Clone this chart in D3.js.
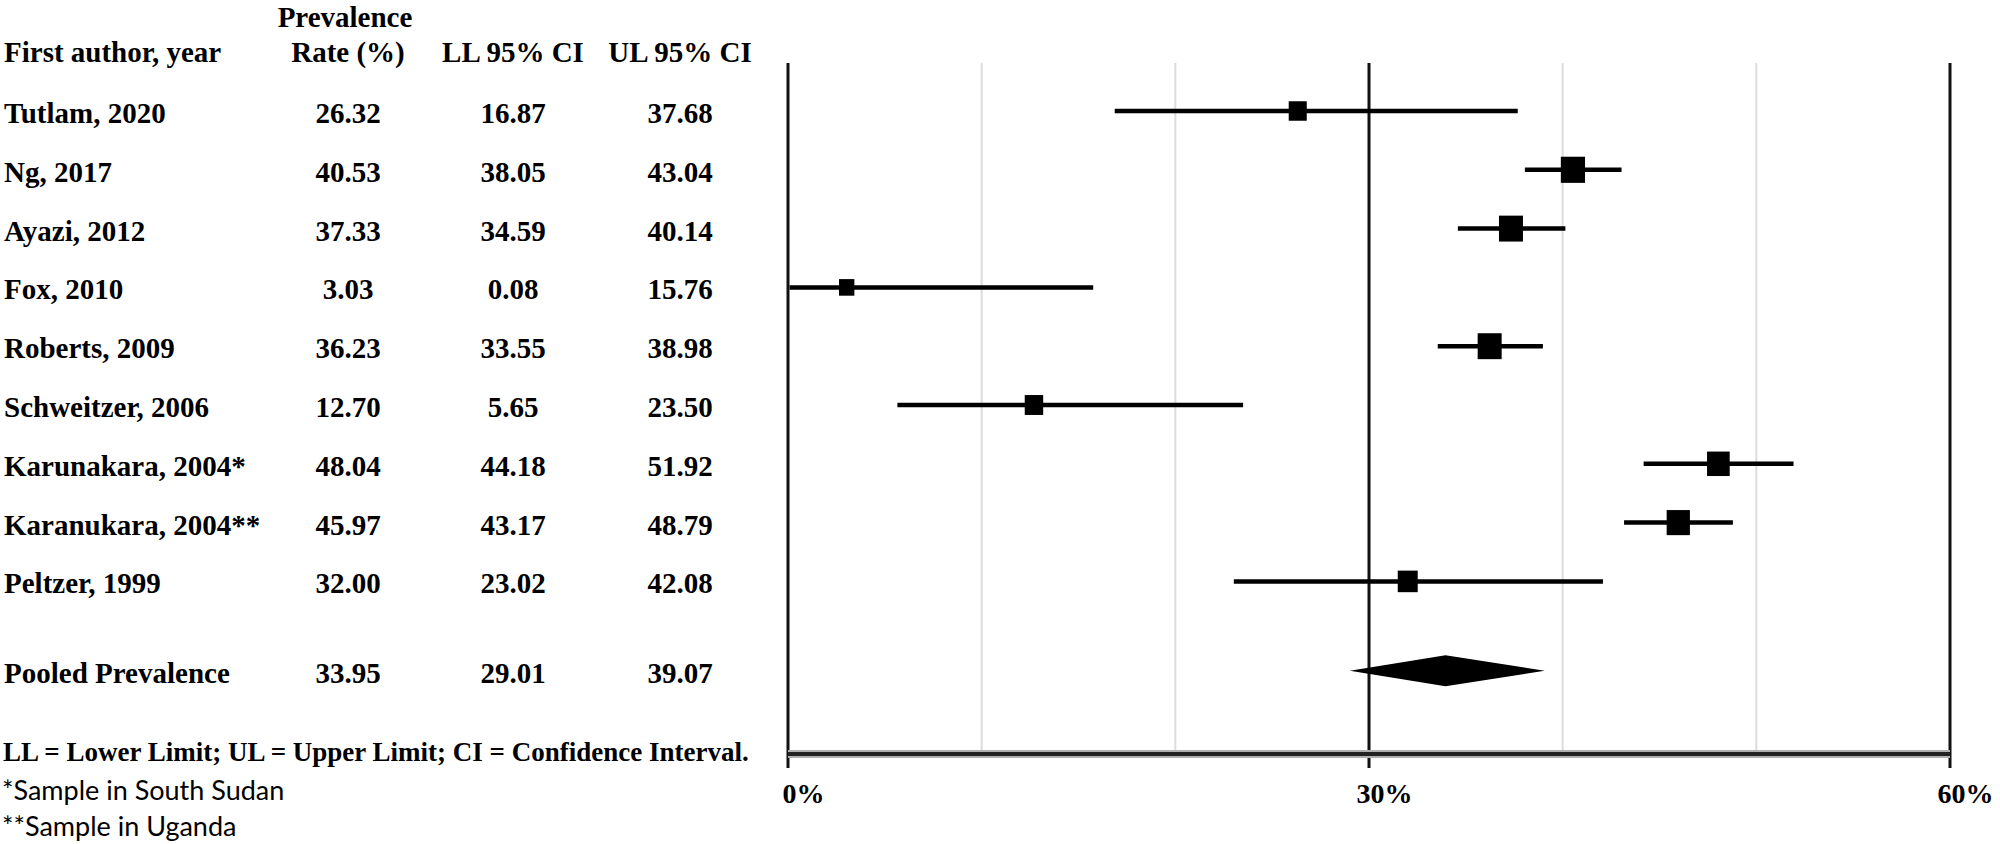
<!DOCTYPE html>
<html>
<head>
<meta charset="utf-8">
<script src="https://cdn.jsdelivr.net/npm/d3@7"></script>
<style>
  html, body { margin: 0; padding: 0; background: #fff; }
  svg { display: block; }
  .serif { font-family: "Liberation Serif", "Times New Roman", serif; font-weight: bold; fill: #000; }
  .sans { font-family: Lato, "Open Sans", sans-serif; fill: #000; }
</style>
</head>
<body>
<svg id="chart" width="2000" height="844"></svg>
<script>
// ---- data ----
const authors = ["Tutlam, 2020", "Ng, 2017", "Ayazi, 2012", "Fox, 2010", "Roberts, 2009",
  "Schweitzer, 2006", "Karunakara, 2004*", "Karanukara, 2004**", "Peltzer, 1999"];
const rate = [26.32, 40.53, 37.33, 3.03, 36.23, 12.70, 48.04, 45.97, 32.00];
const lowerCI = [16.87, 38.05, 34.59, 0.08, 33.55, 5.65, 44.18, 43.17, 23.02];
const upperCI = [37.68, 43.04, 40.14, 15.76, 38.98, 23.50, 51.92, 48.79, 42.08];
// relative study weight
const weight = [9.4, 12.6, 12.5, 8.0, 12.5, 9.6, 11.8, 12.1, 10.4];
const pooledLabel = ["Pooled Prevalence"];
const pooledValues = [33.95, 29.01, 39.07];   // estimate, LL, UL
const tickValues = [0, 30, 60];
const gridValues = [10, 20, 40, 50];
const headers = ["First author, year", "Prevalence", "Rate (%)", "LL 95% CI", "UL 95% CI"];
const footnotes = ["LL = Lower Limit; UL = Upper Limit; CI = Confidence Interval.",
  "*Sample in South Sudan", "**Sample in Uganda"];

// ---- layout ----
const svg = d3.select("#chart");
const x = d3.scaleLinear().domain([0, 60]).range([788, 1950]);
const y = d3.scaleLinear().domain([0, 8]).range([111, 581.4]);
const pooledIndex = 9.52;
const size = d3.scaleLinear().domain([0, 10]).range([0, 19.2]);
const plotTop = 63, axisY = 754, tickBottom = 768;
const colAuthor = 4, colRate = 348, colLL = 513, colUL = 680;
const textDy = 12;

// gridlines
svg.append("g").selectAll("line").data(gridValues).join("line")
  .attr("x1", d => x(d)).attr("x2", d => x(d))
  .attr("y1", plotTop).attr("y2", axisY)
  .attr("stroke", "#dcdcdc").attr("stroke-width", 2);

// main vertical lines (0, 30, 60)
svg.append("g").selectAll("line").data(tickValues).join("line")
  .attr("x1", d => x(d)).attr("x2", d => x(d))
  .attr("y1", plotTop).attr("y2", tickBottom)
  .attr("stroke", "#111").attr("stroke-width", 3);

// bottom axis line with grey halo
svg.append("line").attr("x1", x(0)).attr("x2", x(60)).attr("y1", axisY).attr("y2", axisY)
  .attr("stroke", "#b0b0b0").attr("stroke-width", 8);
svg.append("line").attr("x1", x(0)).attr("x2", x(60)).attr("y1", axisY).attr("y2", axisY)
  .attr("stroke", "#222").attr("stroke-width", 4);

// tick labels via d3 axis
const axis = d3.axisBottom(x).tickValues(tickValues).tickFormat(d => d + "%").tickSize(0).tickPadding(0);
const ag = svg.append("g").attr("transform", `translate(0,${axisY})`).call(axis);
ag.select(".domain").remove();
ag.selectAll("text")
  .attr("class", "serif")
  .attr("font-size", 28)
  .attr("text-anchor", "middle")
  .attr("dx", 15)
  .attr("dy", 0)
  .attr("y", 49);

// CI lines
const idx = d3.range(authors.length);
svg.append("g").selectAll("line").data(idx).join("line")
  .attr("x1", i => x(lowerCI[i])).attr("x2", i => x(upperCI[i]))
  .attr("y1", i => y(i)).attr("y2", i => y(i))
  .attr("stroke", "#000").attr("stroke-width", 4.5);

// markers
svg.append("g").selectAll("rect").data(idx).join("rect")
  .attr("x", i => x(rate[i]) - size(weight[i]) / 2)
  .attr("y", i => y(i) - size(weight[i]) * 1.08 / 2)
  .attr("width", i => size(weight[i]))
  .attr("height", i => size(weight[i]) * 1.08)
  .attr("fill", "#000");

// pooled diamond
const py = y(pooledIndex), ph = 15.5;
svg.append("path")
  .attr("d", `M${x(pooledValues[1])},${py} L${x(pooledValues[0])},${py - ph} L${x(pooledValues[2])},${py} L${x(pooledValues[0])},${py + ph} Z`)
  .attr("fill", "#000");

// table header
const fs = 29;
svg.append("text").attr("class", "serif").attr("font-size", fs).attr("x", colAuthor).attr("y", 62).text(headers[0]);
svg.append("text").attr("class", "serif").attr("font-size", fs).attr("x", 345).attr("y", 27).attr("text-anchor", "middle").text(headers[1]);
svg.append("text").attr("class", "serif").attr("font-size", fs).attr("x", colRate).attr("y", 62).attr("text-anchor", "middle").text(headers[2]);
svg.append("text").attr("class", "serif").attr("font-size", fs).attr("x", colLL).attr("y", 62).attr("text-anchor", "middle").text(headers[3]);
svg.append("text").attr("class", "serif").attr("font-size", fs).attr("x", colUL).attr("y", 62).attr("text-anchor", "middle").text(headers[4]);

// table rows
const rows = idx.map(i => ({ label: authors[i], v: [rate[i], lowerCI[i], upperCI[i]], yy: y(i) }));
rows.push({ label: pooledLabel[0], v: pooledValues, yy: py });
const rg = svg.append("g").selectAll("g").data(rows).join("g");
rg.append("text").attr("class", "serif").attr("font-size", fs)
  .attr("x", colAuthor).attr("y", d => d.yy + textDy).text(d => d.label);
[colRate, colLL, colUL].forEach((cx, k) => {
  rg.append("text").attr("class", "serif").attr("font-size", fs)
    .attr("x", cx).attr("y", d => d.yy + textDy).attr("text-anchor", "middle")
    .text(d => d.v[k].toFixed(2));
});

// footnotes
svg.append("text").attr("class", "serif").attr("font-size", 27).attr("x", 3).attr("y", 761).text(footnotes[0]);
svg.append("text").attr("class", "sans").attr("font-size", 27).attr("x", 2).attr("y", 800).text(footnotes[1]);
svg.append("text").attr("class", "sans").attr("font-size", 27).attr("x", 2).attr("y", 836).text(footnotes[2]);
</script>
</body>
</html>
